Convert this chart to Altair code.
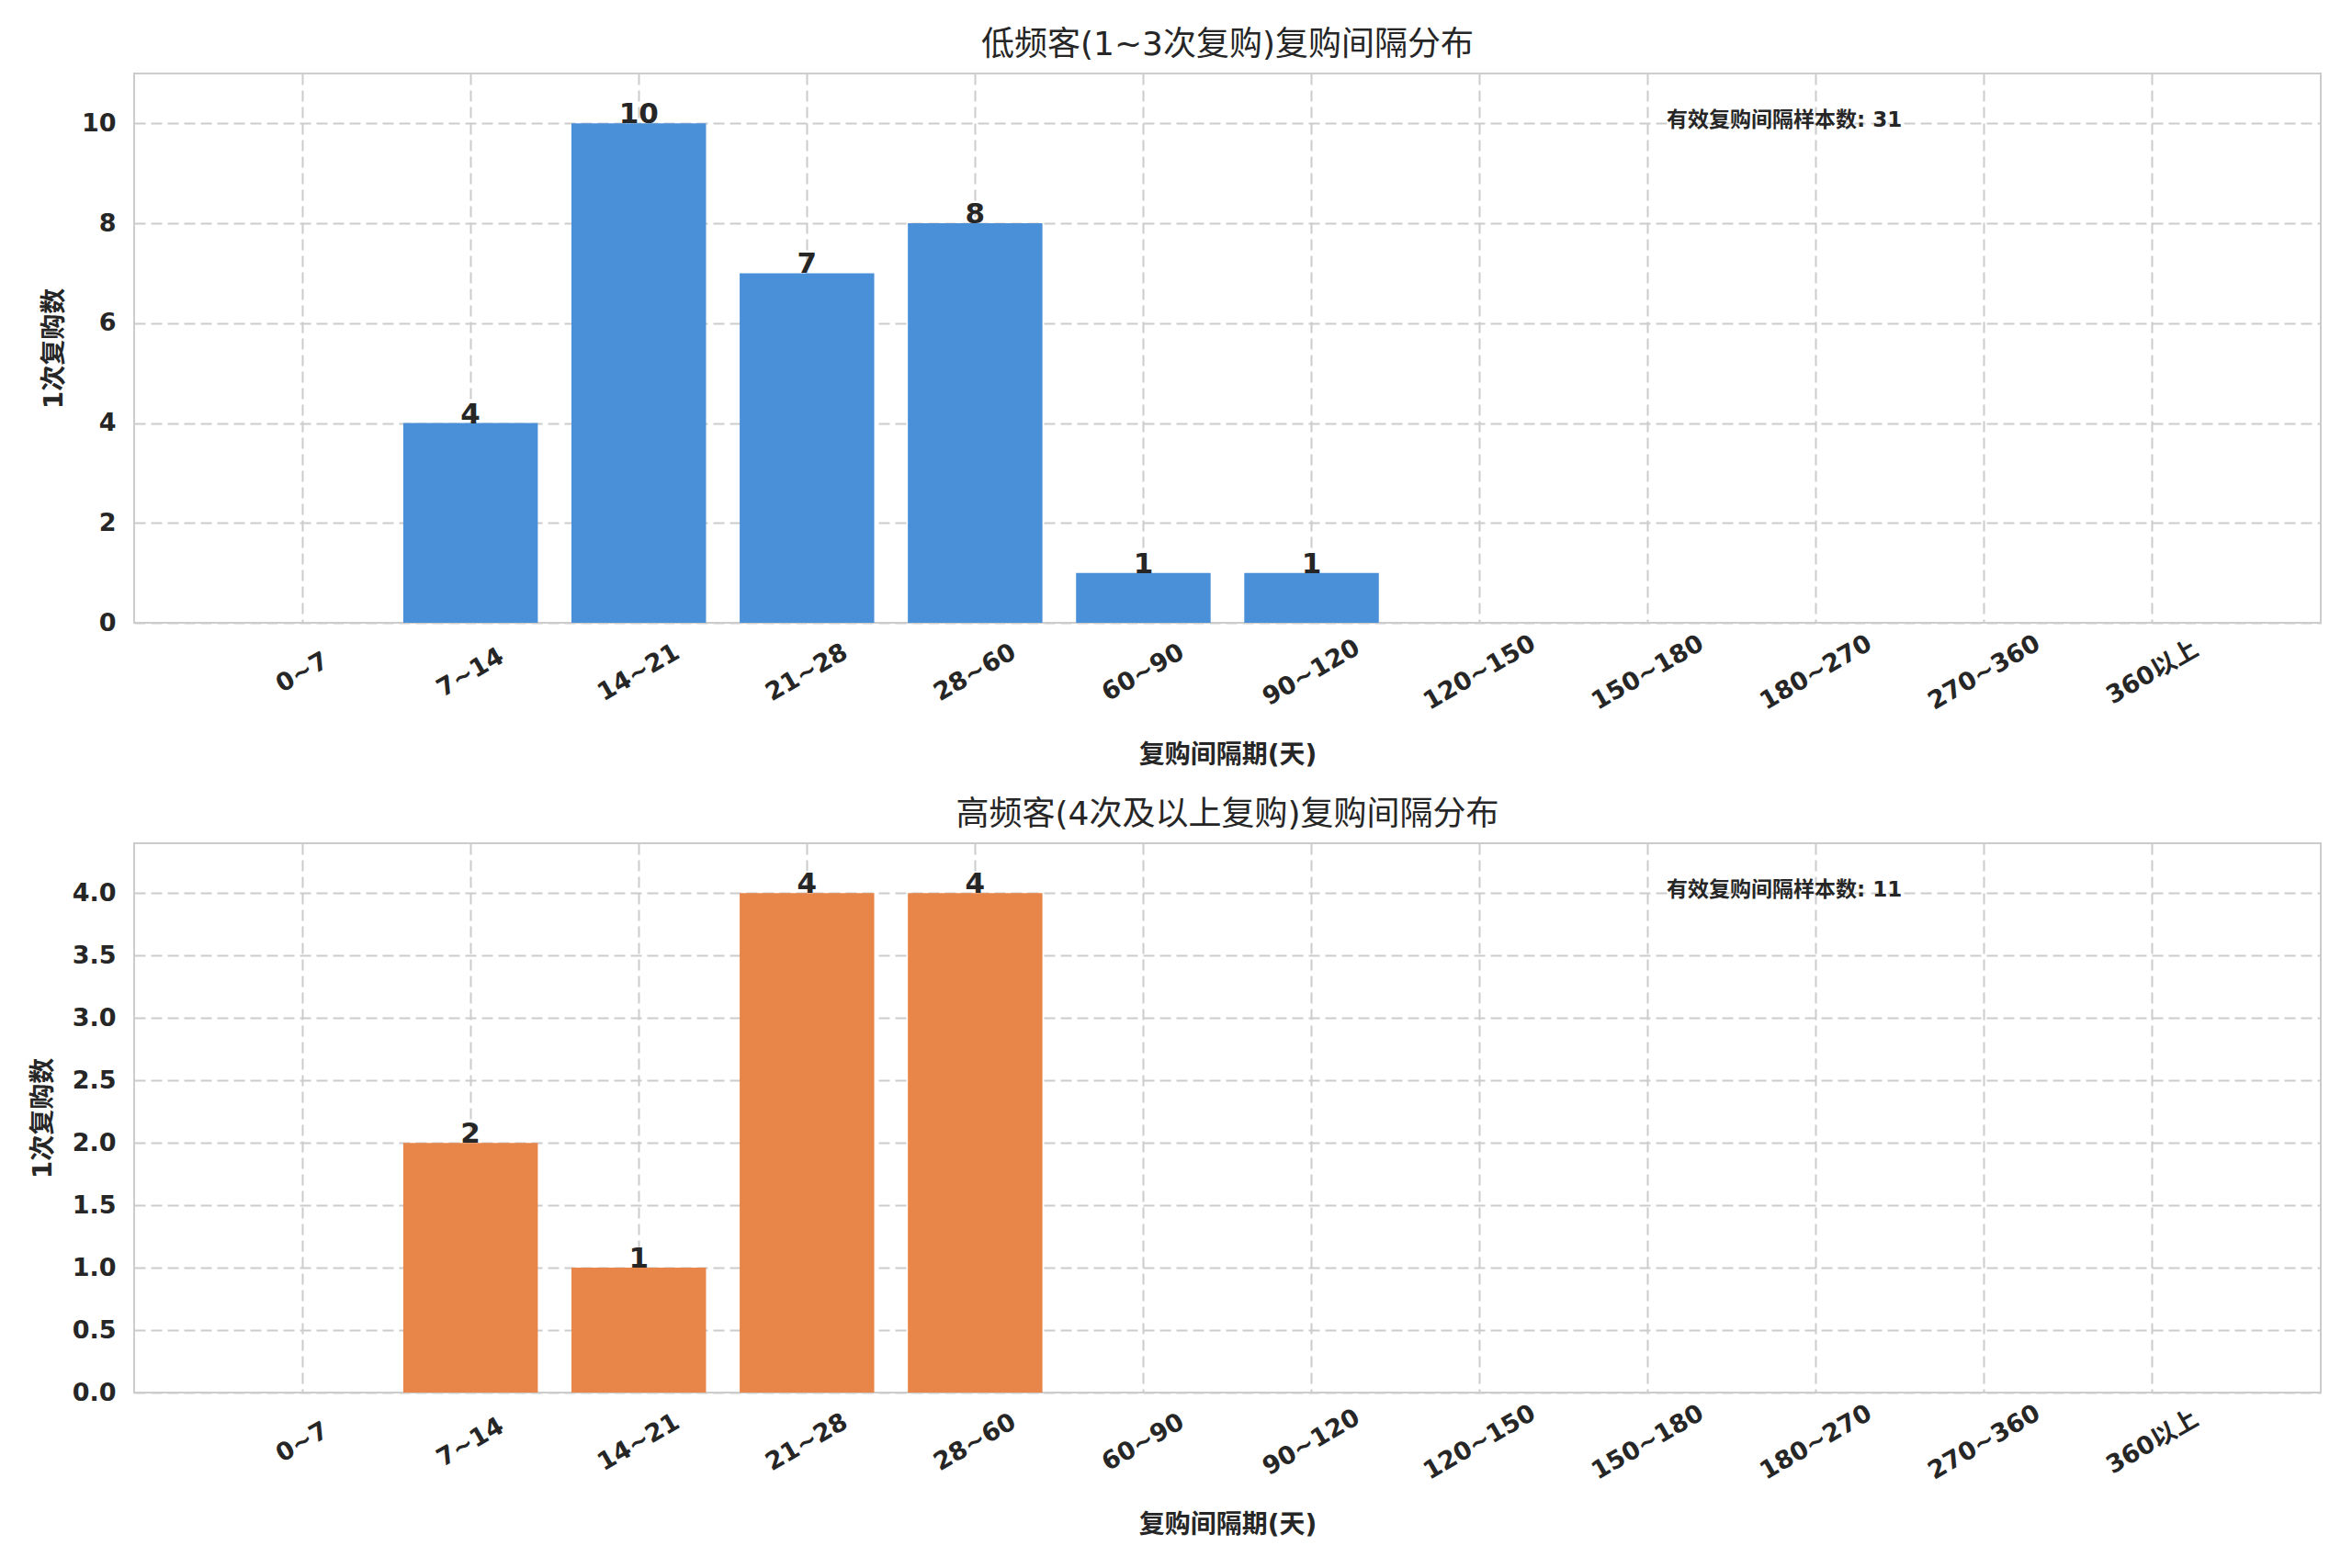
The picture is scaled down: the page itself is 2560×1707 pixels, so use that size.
import altair as alt
import pandas as pd

categories = ["0~7", "7~14", "14~21", "21~28", "28~60", "60~90", "90~120",
              "120~150", "150~180", "180~270", "270~360", "360以上"]
low_counts = [0, 4, 10, 7, 8, 1, 1, 0, 0, 0, 0, 0]
high_counts = [0, 2, 1, 4, 4, 0, 0, 0, 0, 0, 0, 0]

low_title = "低频客(1~3次复购)复购间隔分布"
high_title = "高频客(4次及以上复购)复购间隔分布"
x_title = "复购间隔期(天)"
y_title = "1次复购数"
note_label = "有效复购间隔样本数"

FONT = "DejaVu Sans, Noto Sans CJK SC"
TXT = "#262626"
W, H = 2380, 598


def panel(counts, color, title, ymax, yticks, yfmt, ytitle_x):
    df = pd.DataFrame({"cat": categories, "count": counts})
    xenc = alt.X("cat:N", sort=categories, title=x_title,
                 scale=alt.Scale(domain=categories, paddingInner=0.2, paddingOuter=0.6),
                 axis=alt.Axis(labelAngle=330, labelAlign="center", labelBaseline="middle",
                               labelPadding=54, ticks=False, tickSize=0, bandPosition=0.5,
                               grid=True, titleY=144, titleBaseline="middle"))
    yenc = alt.Y("count:Q", title=y_title,
                 scale=alt.Scale(domain=[0, ymax], nice=False, zero=True),
                 axis=alt.Axis(values=yticks, format=yfmt, ticks=False, tickSize=0,
                               labelPadding=20, grid=True, titleX=ytitle_x,
                               titleBaseline="middle"))
    base = alt.Chart(df)
    bars = base.transform_filter("datum.count > 0").mark_bar(color=color).encode(x=xenc, y=yenc)
    labels = base.transform_filter("datum.count > 0").mark_text(
        baseline="alphabetic", align="center", fontSize=31, fontWeight="bold",
        font=FONT, color=TXT).encode(
        x=alt.X("cat:N", sort=categories),
        y=alt.Y("count:Q"),
        text=alt.Text("count:Q", format="d"))
    total = sum(counts)
    note = alt.Chart(pd.DataFrame({"t": [f"{note_label}: {total}"]})).mark_text(
        align="left", baseline="middle", fontSize=23, fontWeight="bold",
        font=FONT, color=TXT).encode(text="t:N", x=alt.value(1668), y=alt.value(51))
    return alt.layer(bars, labels, note).properties(
        width=W, height=H,
        title=alt.TitleParams(title, fontSize=36, fontWeight="normal", font=FONT,
                              color=TXT, offset=12))


top = panel(low_counts, "#4a90d9", low_title, 11, [0, 2, 4, 6, 8, 10], "d", -87)
bottom = panel(high_counts, "#e8864a", high_title, 4.4,
               [0, 0.5, 1, 1.5, 2, 2.5, 3, 3.5, 4], ".1f", -99)

chart = alt.vconcat(top, bottom, spacing=31).configure(
    background="white", padding={"left": 24, "top": 22, "right": 0, "bottom": 0}
).configure_view(
    stroke="#cccccc", strokeWidth=2
).configure_axis(
    domain=False, gridColor="#cccccc", gridDash=[12, 6], gridWidth=2,
    labelFont=FONT, labelFontSize=27, labelFontWeight="bold", labelColor=TXT,
    titleFont=FONT, titleFontSize=28, titleFontWeight="bold", titleColor=TXT
)

chart.save("out.html", embed_options={"renderer": "svg", "actions": False})
